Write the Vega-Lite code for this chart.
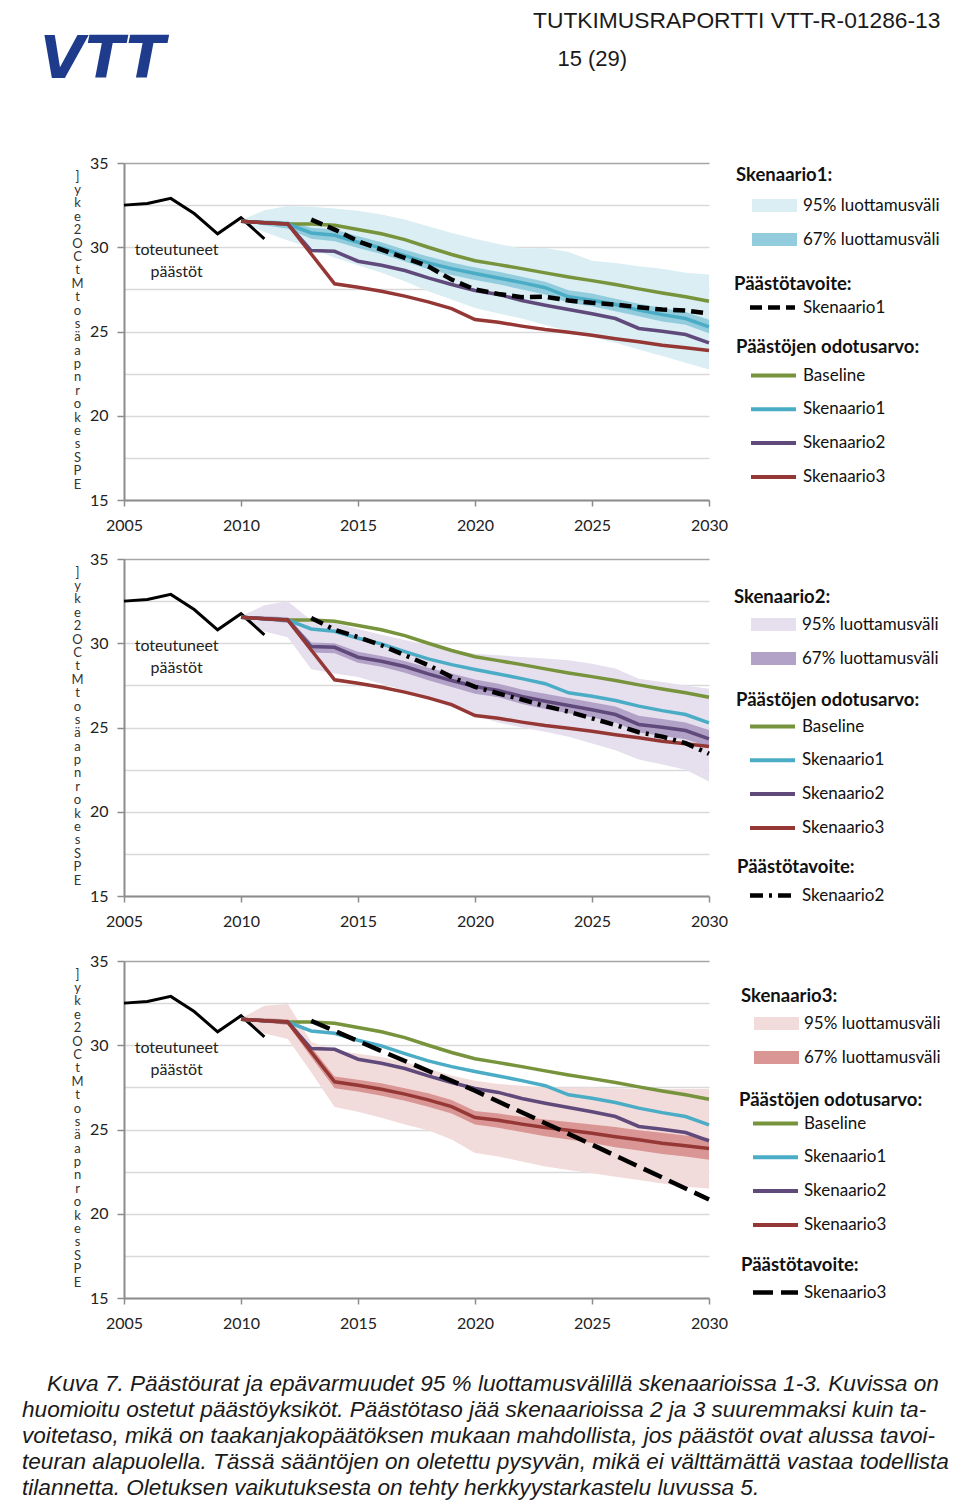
{
  "$schema": "https://vega.github.io/schema/vega-lite/v6.json",
  "background": "white",
  "padding": 0,
  "config": {
    "view": {"stroke": null},
    "font": "Lato",
    "axis": {"labelFont": "Lato", "titleFont": "Lato"},
    "legend": {"titleFont": "Lato", "titleFontSize": 18.5, "titleFontWeight": "bold", "titleColor": "#111", "labelFont": "Lato", "labelFontSize": 17, "labelColor": "#111", "labelLimit": 300, "titleLimit": 300, "padding": 0, "direction": "vertical", "orient": "none"}
  },
  "datasets": {
    "hist": [
      {"year": 2005, "value": 32.5}, {"year": 2006, "value": 32.6}, {"year": 2007, "value": 32.9},
      {"year": 2008, "value": 32.0}, {"year": 2009, "value": 30.8}, {"year": 2010, "value": 31.75},
      {"year": 2011, "value": 30.5}
    ],
    "note": [{"year": 2007.25, "value": 29.83, "label": "toteutuneet\npäästöt"}],
    "exp": [
      {"year": 2010, "Baseline": 31.55, "Skenaario1": 31.55, "Skenaario2": 31.55, "Skenaario3": 31.55},
      {"year": 2011, "Baseline": 31.45, "Skenaario1": 31.45, "Skenaario2": 31.45, "Skenaario3": 31.45},
      {"year": 2012, "Baseline": 31.38, "Skenaario1": 31.38, "Skenaario2": 31.38, "Skenaario3": 31.38},
      {"year": 2013, "Baseline": 31.38, "Skenaario1": 30.85, "Skenaario2": 29.8, "Skenaario3": 29.6},
      {"year": 2014, "Baseline": 31.3, "Skenaario1": 30.71, "Skenaario2": 29.76, "Skenaario3": 27.83},
      {"year": 2015, "Baseline": 31.05, "Skenaario1": 30.3, "Skenaario2": 29.17, "Skenaario3": 27.63},
      {"year": 2016, "Baseline": 30.8, "Skenaario1": 29.96, "Skenaario2": 28.93, "Skenaario3": 27.39},
      {"year": 2017, "Baseline": 30.45, "Skenaario1": 29.5, "Skenaario2": 28.62, "Skenaario3": 27.1},
      {"year": 2018, "Baseline": 30.0, "Skenaario1": 29.07, "Skenaario2": 28.18, "Skenaario3": 26.76},
      {"year": 2019, "Baseline": 29.57, "Skenaario1": 28.73, "Skenaario2": 27.79, "Skenaario3": 26.36},
      {"year": 2020, "Baseline": 29.2, "Skenaario1": 28.44, "Skenaario2": 27.43, "Skenaario3": 25.71},
      {"year": 2021, "Baseline": 28.97, "Skenaario1": 28.18, "Skenaario2": 27.2, "Skenaario3": 25.55},
      {"year": 2022, "Baseline": 28.73, "Skenaario1": 27.9, "Skenaario2": 26.84, "Skenaario3": 25.32},
      {"year": 2023, "Baseline": 28.48, "Skenaario1": 27.6, "Skenaario2": 26.56, "Skenaario3": 25.12},
      {"year": 2024, "Baseline": 28.24, "Skenaario1": 27.06, "Skenaario2": 26.3, "Skenaario3": 24.96},
      {"year": 2025, "Baseline": 28.02, "Skenaario1": 26.86, "Skenaario2": 26.05, "Skenaario3": 24.78},
      {"year": 2026, "Baseline": 27.79, "Skenaario1": 26.6, "Skenaario2": 25.77, "Skenaario3": 24.57},
      {"year": 2027, "Baseline": 27.53, "Skenaario1": 26.27, "Skenaario2": 25.18, "Skenaario3": 24.39},
      {"year": 2028, "Baseline": 27.29, "Skenaario1": 26.0, "Skenaario2": 25.02, "Skenaario3": 24.19},
      {"year": 2029, "Baseline": 27.06, "Skenaario1": 25.77, "Skenaario2": 24.82, "Skenaario3": 24.03},
      {"year": 2030, "Baseline": 26.8, "Skenaario1": 25.28, "Skenaario2": 24.33, "Skenaario3": 23.87}
    ],
    "band1": [
      {"year": 2010, "band": "95% luottamusväli", "value": 31.5, "hi": 31.6},
      {"year": 2011, "band": "95% luottamusväli", "value": 30.9, "hi": 32.2},
      {"year": 2012, "band": "95% luottamusväli", "value": 30.4, "hi": 32.45},
      {"year": 2013, "band": "95% luottamusväli", "value": 29.96, "hi": 32.4},
      {"year": 2014, "band": "95% luottamusväli", "value": 29.37, "hi": 32.3},
      {"year": 2015, "band": "95% luottamusväli", "value": 28.93, "hi": 32.17},
      {"year": 2016, "band": "95% luottamusväli", "value": 28.48, "hi": 31.94},
      {"year": 2017, "band": "95% luottamusväli", "value": 27.98, "hi": 31.64},
      {"year": 2018, "band": "95% luottamusväli", "value": 27.39, "hi": 31.25},
      {"year": 2019, "band": "95% luottamusväli", "value": 26.9, "hi": 30.85},
      {"year": 2020, "band": "95% luottamusväli", "value": 26.4, "hi": 30.51},
      {"year": 2021, "band": "95% luottamusväli", "value": 26.07, "hi": 30.2},
      {"year": 2022, "band": "95% luottamusväli", "value": 25.77, "hi": 29.92},
      {"year": 2023, "band": "95% luottamusväli", "value": 25.38, "hi": 29.96},
      {"year": 2024, "band": "95% luottamusväli", "value": 25.02, "hi": 29.72},
      {"year": 2025, "band": "95% luottamusväli", "value": 24.66, "hi": 29.2},
      {"year": 2026, "band": "95% luottamusväli", "value": 24.33, "hi": 29.07},
      {"year": 2027, "band": "95% luottamusväli", "value": 23.93, "hi": 28.87},
      {"year": 2028, "band": "95% luottamusväli", "value": 23.54, "hi": 28.73},
      {"year": 2029, "band": "95% luottamusväli", "value": 23.14, "hi": 28.48},
      {"year": 2030, "band": "95% luottamusväli", "value": 22.75, "hi": 28.38},
      {"year": 2010, "band": "67% luottamusväli", "value": 31.5, "hi": 31.6},
      {"year": 2011, "band": "67% luottamusväli", "value": 31.3, "hi": 31.6},
      {"year": 2012, "band": "67% luottamusväli", "value": 31.1, "hi": 31.55},
      {"year": 2013, "band": "67% luottamusväli", "value": 30.5, "hi": 31.15},
      {"year": 2014, "band": "67% luottamusväli", "value": 30.35, "hi": 31.05},
      {"year": 2015, "band": "67% luottamusväli", "value": 29.95, "hi": 30.65},
      {"year": 2016, "band": "67% luottamusväli", "value": 29.6, "hi": 30.3},
      {"year": 2017, "band": "67% luottamusväli", "value": 29.15, "hi": 29.85},
      {"year": 2018, "band": "67% luottamusväli", "value": 28.7, "hi": 29.45},
      {"year": 2019, "band": "67% luottamusväli", "value": 28.35, "hi": 29.1},
      {"year": 2020, "band": "67% luottamusväli", "value": 28.05, "hi": 28.8},
      {"year": 2021, "band": "67% luottamusväli", "value": 27.8, "hi": 28.55},
      {"year": 2022, "band": "67% luottamusväli", "value": 27.5, "hi": 28.25},
      {"year": 2023, "band": "67% luottamusväli", "value": 27.2, "hi": 27.95},
      {"year": 2024, "band": "67% luottamusväli", "value": 26.7, "hi": 27.45},
      {"year": 2025, "band": "67% luottamusväli", "value": 26.5, "hi": 27.25},
      {"year": 2026, "band": "67% luottamusväli", "value": 26.2, "hi": 26.95},
      {"year": 2027, "band": "67% luottamusväli", "value": 25.9, "hi": 26.65},
      {"year": 2028, "band": "67% luottamusväli", "value": 25.6, "hi": 26.4},
      {"year": 2029, "band": "67% luottamusväli", "value": 25.4, "hi": 26.15},
      {"year": 2030, "band": "67% luottamusväli", "value": 24.9, "hi": 25.7}
    ],
    "band2": [
      {"year": 2010, "band": "95% luottamusväli", "value": 31.5, "hi": 31.6},
      {"year": 2011, "band": "95% luottamusväli", "value": 30.7, "hi": 32.25},
      {"year": 2012, "band": "95% luottamusväli", "value": 30.35, "hi": 32.5},
      {"year": 2013, "band": "95% luottamusväli", "value": 28.45, "hi": 31.35},
      {"year": 2014, "band": "95% luottamusväli", "value": 28.2, "hi": 31.2},
      {"year": 2015, "band": "95% luottamusväli", "value": 28.0, "hi": 30.85},
      {"year": 2016, "band": "95% luottamusväli", "value": 27.6, "hi": 30.5},
      {"year": 2017, "band": "95% luottamusväli", "value": 27.2, "hi": 30.2},
      {"year": 2018, "band": "95% luottamusväli", "value": 26.7, "hi": 29.9},
      {"year": 2019, "band": "95% luottamusväli", "value": 26.2, "hi": 29.62},
      {"year": 2020, "band": "95% luottamusväli", "value": 25.7, "hi": 29.38},
      {"year": 2021, "band": "95% luottamusväli", "value": 25.3, "hi": 29.29},
      {"year": 2022, "band": "95% luottamusväli", "value": 25.0, "hi": 29.19},
      {"year": 2023, "band": "95% luottamusväli", "value": 24.75, "hi": 29.09},
      {"year": 2024, "band": "95% luottamusväli", "value": 24.45, "hi": 28.99},
      {"year": 2025, "band": "95% luottamusväli", "value": 24.05, "hi": 28.79},
      {"year": 2026, "band": "95% luottamusväli", "value": 23.65, "hi": 28.5},
      {"year": 2027, "band": "95% luottamusväli", "value": 23.1, "hi": 27.9},
      {"year": 2028, "band": "95% luottamusväli", "value": 22.8, "hi": 27.7},
      {"year": 2029, "band": "95% luottamusväli", "value": 22.5, "hi": 27.5},
      {"year": 2030, "band": "95% luottamusväli", "value": 21.8, "hi": 27.3},
      {"year": 2010, "band": "67% luottamusväli", "value": 31.5, "hi": 31.6},
      {"year": 2011, "band": "67% luottamusväli", "value": 31.35, "hi": 31.6},
      {"year": 2012, "band": "67% luottamusväli", "value": 31.2, "hi": 31.55},
      {"year": 2013, "band": "67% luottamusväli", "value": 29.45, "hi": 30.05},
      {"year": 2014, "band": "67% luottamusväli", "value": 29.4, "hi": 30.0},
      {"year": 2015, "band": "67% luottamusväli", "value": 28.85, "hi": 29.5},
      {"year": 2016, "band": "67% luottamusväli", "value": 28.6, "hi": 29.25},
      {"year": 2017, "band": "67% luottamusväli", "value": 28.25, "hi": 28.95},
      {"year": 2018, "band": "67% luottamusväli", "value": 27.8, "hi": 28.55},
      {"year": 2019, "band": "67% luottamusväli", "value": 27.4, "hi": 28.2},
      {"year": 2020, "band": "67% luottamusväli", "value": 27.0, "hi": 27.85},
      {"year": 2021, "band": "67% luottamusväli", "value": 26.8, "hi": 27.6},
      {"year": 2022, "band": "67% luottamusväli", "value": 26.4, "hi": 27.25},
      {"year": 2023, "band": "67% luottamusväli", "value": 26.1, "hi": 27.0},
      {"year": 2024, "band": "67% luottamusväli", "value": 25.85, "hi": 26.75},
      {"year": 2025, "band": "67% luottamusväli", "value": 25.6, "hi": 26.5},
      {"year": 2026, "band": "67% luottamusväli", "value": 25.3, "hi": 26.25},
      {"year": 2027, "band": "67% luottamusväli", "value": 24.7, "hi": 25.7},
      {"year": 2028, "band": "67% luottamusväli", "value": 24.5, "hi": 25.5},
      {"year": 2029, "band": "67% luottamusväli", "value": 24.3, "hi": 25.3},
      {"year": 2030, "band": "67% luottamusväli", "value": 23.85, "hi": 24.85}
    ],
    "band3": [
      {"year": 2010, "band": "95% luottamusväli", "value": 31.5, "hi": 31.6},
      {"year": 2011, "band": "95% luottamusväli", "value": 30.7, "hi": 32.35},
      {"year": 2012, "band": "95% luottamusväli", "value": 30.37, "hi": 32.45},
      {"year": 2013, "band": "95% luottamusväli", "value": 28.4, "hi": 30.2},
      {"year": 2014, "band": "95% luottamusväli", "value": 26.33, "hi": 29.7},
      {"year": 2015, "band": "95% luottamusväli", "value": 26.06, "hi": 29.5},
      {"year": 2016, "band": "95% luottamusväli", "value": 25.7, "hi": 29.3},
      {"year": 2017, "band": "95% luottamusväli", "value": 25.3, "hi": 29.0},
      {"year": 2018, "band": "95% luottamusväli", "value": 24.95, "hi": 28.6},
      {"year": 2019, "band": "95% luottamusväli", "value": 24.4, "hi": 28.2},
      {"year": 2020, "band": "95% luottamusväli", "value": 23.6, "hi": 27.9},
      {"year": 2021, "band": "95% luottamusväli", "value": 23.4, "hi": 27.7},
      {"year": 2022, "band": "95% luottamusväli", "value": 23.1, "hi": 27.6},
      {"year": 2023, "band": "95% luottamusväli", "value": 22.8, "hi": 27.5},
      {"year": 2024, "band": "95% luottamusväli", "value": 22.6, "hi": 27.5},
      {"year": 2025, "band": "95% luottamusväli", "value": 22.4, "hi": 27.5},
      {"year": 2026, "band": "95% luottamusväli", "value": 22.2, "hi": 27.45},
      {"year": 2027, "band": "95% luottamusväli", "value": 22.0, "hi": 27.4},
      {"year": 2028, "band": "95% luottamusväli", "value": 21.8, "hi": 27.4},
      {"year": 2029, "band": "95% luottamusväli", "value": 21.6, "hi": 27.4},
      {"year": 2030, "band": "95% luottamusväli", "value": 21.5, "hi": 27.4},
      {"year": 2010, "band": "67% luottamusväli", "value": 31.5, "hi": 31.6},
      {"year": 2011, "band": "67% luottamusväli", "value": 31.35, "hi": 31.6},
      {"year": 2012, "band": "67% luottamusväli", "value": 31.2, "hi": 31.55},
      {"year": 2013, "band": "67% luottamusväli", "value": 29.3, "hi": 29.9},
      {"year": 2014, "band": "67% luottamusväli", "value": 27.45, "hi": 28.15},
      {"year": 2015, "band": "67% luottamusväli", "value": 27.25, "hi": 27.95},
      {"year": 2016, "band": "67% luottamusväli", "value": 27.0, "hi": 27.75},
      {"year": 2017, "band": "67% luottamusväli", "value": 26.7, "hi": 27.45},
      {"year": 2018, "band": "67% luottamusväli", "value": 26.35, "hi": 27.15},
      {"year": 2019, "band": "67% luottamusväli", "value": 25.95, "hi": 26.75},
      {"year": 2020, "band": "67% luottamusväli", "value": 25.3, "hi": 26.1},
      {"year": 2021, "band": "67% luottamusväli", "value": 25.1, "hi": 25.95},
      {"year": 2022, "band": "67% luottamusväli", "value": 24.85, "hi": 25.75},
      {"year": 2023, "band": "67% luottamusväli", "value": 24.6, "hi": 25.6},
      {"year": 2024, "band": "67% luottamusväli", "value": 24.4, "hi": 25.45},
      {"year": 2025, "band": "67% luottamusväli", "value": 24.2, "hi": 25.3},
      {"year": 2026, "band": "67% luottamusväli", "value": 23.95, "hi": 25.15},
      {"year": 2027, "band": "67% luottamusväli", "value": 23.75, "hi": 24.95},
      {"year": 2028, "band": "67% luottamusväli", "value": 23.55, "hi": 24.8},
      {"year": 2029, "band": "67% luottamusväli", "value": 23.4, "hi": 24.65},
      {"year": 2030, "band": "67% luottamusväli", "value": 23.2, "hi": 24.5}
    ],
    "target1": [
      {"year": 2013, "target": "Skenaario1", "value": 31.64}, {"year": 2014, "target": "Skenaario1", "value": 31.05},
      {"year": 2015, "target": "Skenaario1", "value": 30.36}, {"year": 2016, "target": "Skenaario1", "value": 29.86},
      {"year": 2017, "target": "Skenaario1", "value": 29.37}, {"year": 2018, "target": "Skenaario1", "value": 28.87},
      {"year": 2019, "target": "Skenaario1", "value": 28.08}, {"year": 2020, "target": "Skenaario1", "value": 27.49},
      {"year": 2021, "target": "Skenaario1", "value": 27.23}, {"year": 2022, "target": "Skenaario1", "value": 27.04},
      {"year": 2023, "target": "Skenaario1", "value": 27.06}, {"year": 2024, "target": "Skenaario1", "value": 26.84},
      {"year": 2025, "target": "Skenaario1", "value": 26.7}, {"year": 2026, "target": "Skenaario1", "value": 26.6},
      {"year": 2027, "target": "Skenaario1", "value": 26.44}, {"year": 2028, "target": "Skenaario1", "value": 26.3},
      {"year": 2029, "target": "Skenaario1", "value": 26.25}, {"year": 2030, "target": "Skenaario1", "value": 26.07}
    ],
    "target2": [
      {"year": 2013, "target": "Skenaario2", "value": 31.5}, {"year": 2014, "target": "Skenaario2", "value": 30.8},
      {"year": 2015, "target": "Skenaario2", "value": 30.37}, {"year": 2016, "target": "Skenaario2", "value": 29.88},
      {"year": 2017, "target": "Skenaario2", "value": 29.29}, {"year": 2018, "target": "Skenaario2", "value": 28.7},
      {"year": 2019, "target": "Skenaario2", "value": 28.0}, {"year": 2020, "target": "Skenaario2", "value": 27.41},
      {"year": 2021, "target": "Skenaario2", "value": 27.02}, {"year": 2022, "target": "Skenaario2", "value": 26.66},
      {"year": 2023, "target": "Skenaario2", "value": 26.27}, {"year": 2024, "target": "Skenaario2", "value": 25.94},
      {"year": 2025, "target": "Skenaario2", "value": 25.54}, {"year": 2026, "target": "Skenaario2", "value": 25.15},
      {"year": 2027, "target": "Skenaario2", "value": 24.72}, {"year": 2028, "target": "Skenaario2", "value": 24.46},
      {"year": 2029, "target": "Skenaario2", "value": 24.07}, {"year": 2030, "target": "Skenaario2", "value": 23.44}
    ],
    "target3": [
      {"year": 2013, "target": "Skenaario3", "value": 31.45}, {"year": 2015, "target": "Skenaario3", "value": 30.25},
      {"year": 2020, "target": "Skenaario3", "value": 27.3}, {"year": 2025, "target": "Skenaario3", "value": 24.1},
      {"year": 2030, "target": "Skenaario3", "value": 20.85}
    ]
  },
  "spacing": 20,
  "vconcat": [
    {
      "spacing": 343,
      "hconcat": [
        {
          "width": 190, "height": 135, "data": {"values": []}, "mark": "point",
          "title": {"text": "VTT", "orient": "bottom", "anchor": "start", "dx": 40, "offset": -103, "font": "DejaVu Sans", "fontSize": 58, "fontStyle": "italic", "fontWeight": "bold", "color": "#1f3c8c", "baseline": "top"}
        },
        {
          "width": 1, "height": 1, "data": {"values": []}, "mark": "point",
          "title": {"text": "TUTKIMUSRAPORTTI VTT-R-01286-13", "subtitle": "\u200b\u00a0\u00a0\u00a0\u00a015 (29)", "orient": "bottom", "anchor": "start", "offset": 9, "font": "Liberation Sans", "fontSize": 22.8, "fontWeight": "normal", "color": "#1a1a1a", "subtitleFont": "Liberation Sans", "subtitleFontSize": 22, "subtitleColor": "#1a1a1a", "subtitlePadding": 16, "baseline": "top"}
        }
      ]
    },
    {
      "spacing": 69,
      "hconcat": [
        {"width": 1, "height": 1, "data": {"values": []}, "mark": "point"},
        {
          "spacing": 18,
          "resolve": {
            "scale": {"fill": "independent", "stroke": "independent", "strokeDash": "independent", "x": "independent", "y": "independent"},
            "legend": {"fill": "independent", "stroke": "independent", "strokeDash": "independent"}
          },
          "vconcat": [
            {
              "width": 585, "height": 337,
              "encoding": {
                "x": {"field": "year", "type": "quantitative", "scale": {"domain": [2005, 2030], "nice": false, "zero": false},
                  "axis": {"values": [2005, 2010, 2015, 2020, 2025, 2030], "format": "d", "grid": false, "title": null, "tickSize": 6, "tickWidth": 1.5, "tickColor": "#8c8c8c", "domainColor": "#8c8c8c", "domainWidth": 2, "labelFontSize": 16, "labelColor": "#222", "labelPadding": 11, "labelFlush": false, "labelOverlap": false}},
                "y": {"field": "value", "type": "quantitative", "scale": {"domain": [15, 35], "nice": false, "zero": false},
                  "axis": {"values": [15, 17.5, 20, 22.5, 25, 27.5, 30, 32.5, 35], "labelExpr": "datum.value % 5 === 0 ? datum.label : ''", "grid": true, "gridColor": {"condition": {"test": "datum.value === 35", "value": "#a6a6a6"}, "value": "#d9d9d9"}, "gridWidth": 1.6, "tickSize": 7, "tickWidth": 1.5, "tickColor": "#8c8c8c", "tickOpacity": {"condition": {"test": "datum.value % 5 === 0", "value": 1}, "value": 0}, "domainColor": "#8c8c8c", "domainWidth": 2, "labelFontSize": 16, "labelColor": "#222", "labelPadding": 9,
                    "title": ["]", "y", "k", "e", "2", "O", "C", "t", "M", "t", "o", "s", "ä", "a", "p", "n", "r", "o", "k", "e", "s", "S", "P", "E"], "titleAngle": 0, "titleAlign": "center", "titleBaseline": "top", "titleX": -47, "titleY": 7, "titleFontSize": 13, "titleFontWeight": "normal", "titleColor": "#333", "titleLineHeight": 13.4}}
              },
              "layer": [
                {
                  "data": {"name": "band1"}, "transform": [{"filter": "datum.band === '95% luottamusväli'"}],
                  "mark": {"type": "area", "opacity": 1},
                  "encoding": {
                    "y2": {"field": "hi"},
                    "fill": {"field": "band", "type": "nominal", "scale": {"domain": ["95% luottamusväli", "67% luottamusväli"], "range": ["#dbeef4", "#93cddd"]},
                      "legend": {"title": "Skenaario1:", "orient": "none", "legendX": 612, "legendY": 2.5, "symbolType": "M-2,-0.58H2V0.58H-2Z", "symbolSize": 506.25, "symbolStrokeWidth": 0, "symbolOffset": 27, "labelOffset": 17, "rowPadding": 14, "titlePadding": 10}}
                  }
                },
                {
                  "data": {"name": "band1"}, "transform": [{"filter": "datum.band === '67% luottamusväli'"}],
                  "mark": {"type": "area", "opacity": 1},
                  "encoding": {
                    "y2": {"field": "hi"},
                    "fill": {"field": "band", "type": "nominal", "scale": {"domain": ["95% luottamusväli", "67% luottamusväli"], "range": ["#dbeef4", "#93cddd"]},
                      "legend": {"title": "Skenaario1:", "orient": "none", "legendX": 612, "legendY": 2.5, "symbolType": "M-2,-0.58H2V0.58H-2Z", "symbolSize": 506.25, "symbolStrokeWidth": 0, "symbolOffset": 27, "labelOffset": 17, "rowPadding": 14, "titlePadding": 10}}
                  }
                },
                {
                  "data": {"name": "hist"},
                  "mark": {"type": "line", "color": "black", "strokeWidth": 3}
                },
                {
                  "data": {"name": "exp"},
                  "transform": [{"fold": ["Baseline", "Skenaario1", "Skenaario2", "Skenaario3"], "as": ["series", "value"]}],
                  "mark": {"type": "line", "strokeWidth": 3.5},
                  "encoding": {
                    "stroke": {"field": "series", "type": "nominal", "scale": {"domain": ["Baseline", "Skenaario1", "Skenaario2", "Skenaario3"], "range": ["#77933c", "#4bacc6", "#604a7b", "#953735"]},
                      "legend": {"title": "Päästöjen odotusarvo:", "orient": "none", "legendX": 612, "legendY": 174.5, "symbolType": "M-2,0H2", "symbolSize": 506.25, "symbolStrokeWidth": 4, "symbolOffset": 24, "labelOffset": 16, "rowPadding": 11.8, "titlePadding": 6}}
                  }
                },
                {
                  "data": {"name": "target1"},
                  "mark": {"type": "line", "color": "black", "strokeWidth": 4.5},
                  "encoding": {
                    "strokeDash": {"field": "target", "type": "nominal", "scale": {"domain": ["Skenaario1"], "range": [[12, 6]]},
                      "legend": {"title": "Päästötavoite:", "orient": "none", "legendX": 610, "legendY": 111.5, "symbolType": "M-2,0H2", "symbolSize": 506.25, "symbolStrokeWidth": 4.5, "symbolStrokeColor": "#000", "symbolOffset": 25, "labelOffset": 17, "titlePadding": 1}}
                  }
                },
                {
                  "data": {"name": "note"},
                  "mark": {"type": "text", "lineBreak": "\n", "font": "Lato", "fontSize": 16, "color": "#222", "align": "center", "baseline": "middle", "lineHeight": 22},
                  "encoding": {"text": {"field": "label"}}
                }
              ]
            },
            {
              "spacing": 24,
              "resolve": {
                "scale": {"fill": "independent", "stroke": "independent", "strokeDash": "independent", "x": "independent", "y": "independent"},
                "legend": {"fill": "independent", "stroke": "independent", "strokeDash": "independent"}
              },
              "vconcat": [
                {
                  "width": 585, "height": 337,
                  "encoding": {
                    "x": {"field": "year", "type": "quantitative", "scale": {"domain": [2005, 2030], "nice": false, "zero": false},
                      "axis": {"values": [2005, 2010, 2015, 2020, 2025, 2030], "format": "d", "grid": false, "title": null, "tickSize": 6, "tickWidth": 1.5, "tickColor": "#8c8c8c", "domainColor": "#8c8c8c", "domainWidth": 2, "labelFontSize": 16, "labelColor": "#222", "labelPadding": 11, "labelFlush": false, "labelOverlap": false}},
                    "y": {"field": "value", "type": "quantitative", "scale": {"domain": [15, 35], "nice": false, "zero": false},
                      "axis": {"values": [15, 17.5, 20, 22.5, 25, 27.5, 30, 32.5, 35], "labelExpr": "datum.value % 5 === 0 ? datum.label : ''", "grid": true, "gridColor": {"condition": {"test": "datum.value === 35", "value": "#a6a6a6"}, "value": "#d9d9d9"}, "gridWidth": 1.6, "tickSize": 7, "tickWidth": 1.5, "tickColor": "#8c8c8c", "tickOpacity": {"condition": {"test": "datum.value % 5 === 0", "value": 1}, "value": 0}, "domainColor": "#8c8c8c", "domainWidth": 2, "labelFontSize": 16, "labelColor": "#222", "labelPadding": 9,
                        "title": ["]", "y", "k", "e", "2", "O", "C", "t", "M", "t", "o", "s", "ä", "a", "p", "n", "r", "o", "k", "e", "s", "S", "P", "E"], "titleAngle": 0, "titleAlign": "center", "titleBaseline": "top", "titleX": -47, "titleY": 7, "titleFontSize": 13, "titleFontWeight": "normal", "titleColor": "#333", "titleLineHeight": 13.4}}
                  },
                  "layer": [
                    {
                      "data": {"name": "band2"}, "transform": [{"filter": "datum.band === '95% luottamusväli'"}],
                      "mark": {"type": "area", "opacity": 1},
                      "encoding": {
                        "y2": {"field": "hi"},
                        "fill": {"field": "band", "type": "nominal", "scale": {"domain": ["95% luottamusväli", "67% luottamusväli"], "range": ["#e6e0ee", "#b3a2c7"]},
                          "legend": {"title": "Skenaario2:", "orient": "none", "legendX": 610, "legendY": 28.5, "symbolType": "M-2,-0.58H2V0.58H-2Z", "symbolSize": 506.25, "symbolStrokeWidth": 0, "symbolOffset": 28, "labelOffset": 17, "rowPadding": 14, "titlePadding": 7}}
                      }
                    },
                    {
                      "data": {"name": "band2"}, "transform": [{"filter": "datum.band === '67% luottamusväli'"}],
                      "mark": {"type": "area", "opacity": 1},
                      "encoding": {
                        "y2": {"field": "hi"},
                        "fill": {"field": "band", "type": "nominal", "scale": {"domain": ["95% luottamusväli", "67% luottamusväli"], "range": ["#e6e0ee", "#b3a2c7"]},
                          "legend": {"title": "Skenaario2:", "orient": "none", "legendX": 610, "legendY": 28.5, "symbolType": "M-2,-0.58H2V0.58H-2Z", "symbolSize": 506.25, "symbolStrokeWidth": 0, "symbolOffset": 28, "labelOffset": 17, "rowPadding": 14, "titlePadding": 7}}
                      }
                    },
                    {
                      "data": {"name": "hist"},
                      "mark": {"type": "line", "color": "black", "strokeWidth": 3}
                    },
                    {
                      "data": {"name": "exp"},
                      "transform": [{"fold": ["Baseline", "Skenaario1", "Skenaario2", "Skenaario3"], "as": ["series", "value"]}],
                      "mark": {"type": "line", "strokeWidth": 3.5},
                      "encoding": {
                        "stroke": {"field": "series", "type": "nominal", "scale": {"domain": ["Baseline", "Skenaario1", "Skenaario2", "Skenaario3"], "range": ["#77933c", "#4bacc6", "#604a7b", "#953735"]},
                          "legend": {"title": "Päästöjen odotusarvo:", "orient": "none", "legendX": 612, "legendY": 131.5, "symbolType": "M-2,0H2", "symbolSize": 506.25, "symbolStrokeWidth": 4, "symbolOffset": 23, "labelOffset": 16, "rowPadding": 11.8, "titlePadding": 4}}
                      }
                    },
                    {
                      "data": {"name": "target2"},
                      "mark": {"type": "line", "color": "black", "strokeWidth": 4.5},
                      "encoding": {
                        "strokeDash": {"field": "target", "type": "nominal", "scale": {"domain": ["Skenaario2"], "range": [[13, 6, 3, 6]]},
                          "legend": {"title": "Päästötavoite:", "orient": "none", "legendX": 613, "legendY": 298.5, "symbolType": "M-2,0H2", "symbolSize": 506.25, "symbolStrokeWidth": 4.5, "symbolStrokeColor": "#000", "symbolOffset": 22, "labelOffset": 16, "titlePadding": 6}}
                      }
                    },
                    {
                      "data": {"name": "note"},
                      "mark": {"type": "text", "lineBreak": "\n", "font": "Lato", "fontSize": 16, "color": "#222", "align": "center", "baseline": "middle", "lineHeight": 22},
                      "encoding": {"text": {"field": "label"}}
                    }
                  ]
                },
                {
                  "width": 585, "height": 337,
                  "encoding": {
                    "x": {"field": "year", "type": "quantitative", "scale": {"domain": [2005, 2030], "nice": false, "zero": false},
                      "axis": {"values": [2005, 2010, 2015, 2020, 2025, 2030], "format": "d", "grid": false, "title": null, "tickSize": 6, "tickWidth": 1.5, "tickColor": "#8c8c8c", "domainColor": "#8c8c8c", "domainWidth": 2, "labelFontSize": 16, "labelColor": "#222", "labelPadding": 11, "labelFlush": false, "labelOverlap": false}},
                    "y": {"field": "value", "type": "quantitative", "scale": {"domain": [15, 35], "nice": false, "zero": false},
                      "axis": {"values": [15, 17.5, 20, 22.5, 25, 27.5, 30, 32.5, 35], "labelExpr": "datum.value % 5 === 0 ? datum.label : ''", "grid": true, "gridColor": {"condition": {"test": "datum.value === 35", "value": "#a6a6a6"}, "value": "#d9d9d9"}, "gridWidth": 1.6, "tickSize": 7, "tickWidth": 1.5, "tickColor": "#8c8c8c", "tickOpacity": {"condition": {"test": "datum.value % 5 === 0", "value": 1}, "value": 0}, "domainColor": "#8c8c8c", "domainWidth": 2, "labelFontSize": 16, "labelColor": "#222", "labelPadding": 9,
                        "title": ["]", "y", "k", "e", "2", "O", "C", "t", "M", "t", "o", "s", "ä", "a", "p", "n", "r", "o", "k", "e", "s", "S", "P", "E"], "titleAngle": 0, "titleAlign": "center", "titleBaseline": "top", "titleX": -47, "titleY": 7, "titleFontSize": 13, "titleFontWeight": "normal", "titleColor": "#333", "titleLineHeight": 13.4}}
                  },
                  "layer": [
                    {
                      "data": {"name": "band3"}, "transform": [{"filter": "datum.band === '95% luottamusväli'"}],
                      "mark": {"type": "area", "opacity": 1},
                      "encoding": {
                        "y2": {"field": "hi"},
                        "fill": {"field": "band", "type": "nominal", "scale": {"domain": ["95% luottamusväli", "67% luottamusväli"], "range": ["#f2dcdb", "#d99694"]},
                          "legend": {"title": "Skenaario3:", "orient": "none", "legendX": 617, "legendY": 25.5, "symbolType": "M-2,-0.58H2V0.58H-2Z", "symbolSize": 506.25, "symbolStrokeWidth": 0, "symbolOffset": 24, "labelOffset": 16, "rowPadding": 14, "titlePadding": 7}}
                      }
                    },
                    {
                      "data": {"name": "band3"}, "transform": [{"filter": "datum.band === '67% luottamusväli'"}],
                      "mark": {"type": "area", "opacity": 1},
                      "encoding": {
                        "y2": {"field": "hi"},
                        "fill": {"field": "band", "type": "nominal", "scale": {"domain": ["95% luottamusväli", "67% luottamusväli"], "range": ["#f2dcdb", "#d99694"]},
                          "legend": {"title": "Skenaario3:", "orient": "none", "legendX": 617, "legendY": 25.5, "symbolType": "M-2,-0.58H2V0.58H-2Z", "symbolSize": 506.25, "symbolStrokeWidth": 0, "symbolOffset": 24, "labelOffset": 16, "rowPadding": 14, "titlePadding": 7}}
                      }
                    },
                    {
                      "data": {"name": "hist"},
                      "mark": {"type": "line", "color": "black", "strokeWidth": 3}
                    },
                    {
                      "data": {"name": "exp"},
                      "transform": [{"fold": ["Baseline", "Skenaario1", "Skenaario2", "Skenaario3"], "as": ["series", "value"]}],
                      "mark": {"type": "line", "strokeWidth": 3.5},
                      "encoding": {
                        "stroke": {"field": "series", "type": "nominal", "scale": {"domain": ["Baseline", "Skenaario1", "Skenaario2", "Skenaario3"], "range": ["#77933c", "#4bacc6", "#604a7b", "#953735"]},
                          "legend": {"title": "Päästöjen odotusarvo:", "orient": "none", "legendX": 615, "legendY": 129.5, "symbolType": "M-2,0H2", "symbolSize": 506.25, "symbolStrokeWidth": 4, "symbolOffset": 23, "labelOffset": 15, "rowPadding": 11.8, "titlePadding": 1}}
                      }
                    },
                    {
                      "data": {"name": "target3"},
                      "mark": {"type": "line", "color": "black", "strokeWidth": 4.5},
                      "encoding": {
                        "strokeDash": {"field": "target", "type": "nominal", "scale": {"domain": ["Skenaario3"], "range": [[20, 8]]},
                          "legend": {"title": "Päästötavoite:", "orient": "none", "legendX": 617, "legendY": 294.5, "symbolType": "M-2,0H2", "symbolSize": 506.25, "symbolStrokeWidth": 4.5, "symbolStrokeColor": "#000", "symbolOffset": 21, "labelOffset": 15, "titlePadding": 5}}
                      }
                    },
                    {
                      "data": {"name": "note"},
                      "mark": {"type": "text", "lineBreak": "\n", "font": "Lato", "fontSize": 16, "color": "#222", "align": "center", "baseline": "middle", "lineHeight": 22},
                      "encoding": {"text": {"field": "label"}}
                    }
                  ]
                }
              ]
            }
          ]
        }
      ]
    },
    {
      "width": 930, "height": 1, "data": {"values": []}, "mark": "point",
      "title": {
        "text": [
          "\u200b\u00a0\u00a0\u00a0\u00a0Kuva 7. Päästöurat ja epävarmuudet 95 % luottamusvälillä skenaarioissa 1-3. Kuvissa on",
          "huomioitu ostetut päästöyksiköt. Päästötaso jää skenaarioissa 2 ja 3 suuremmaksi kuin ta-",
          "voitetaso, mikä on taakanjakopäätöksen mukaan mahdollista, jos päästöt ovat alussa tavoi-",
          "teuran alapuolella. Tässä sääntöjen on oletettu pysyvän, mikä ei välttämättä vastaa todellista",
          "tilannetta. Oletuksen vaikutuksesta on tehty herkkyystarkastelu luvussa 5."
        ],
        "orient": "bottom", "anchor": "start", "dx": 22, "offset": 21, "font": "Liberation Sans", "fontSize": 22.6, "fontStyle": "italic", "fontWeight": "normal", "lineHeight": 26, "color": "#1a1a1a", "baseline": "top"
      }
    }
  ]
}
